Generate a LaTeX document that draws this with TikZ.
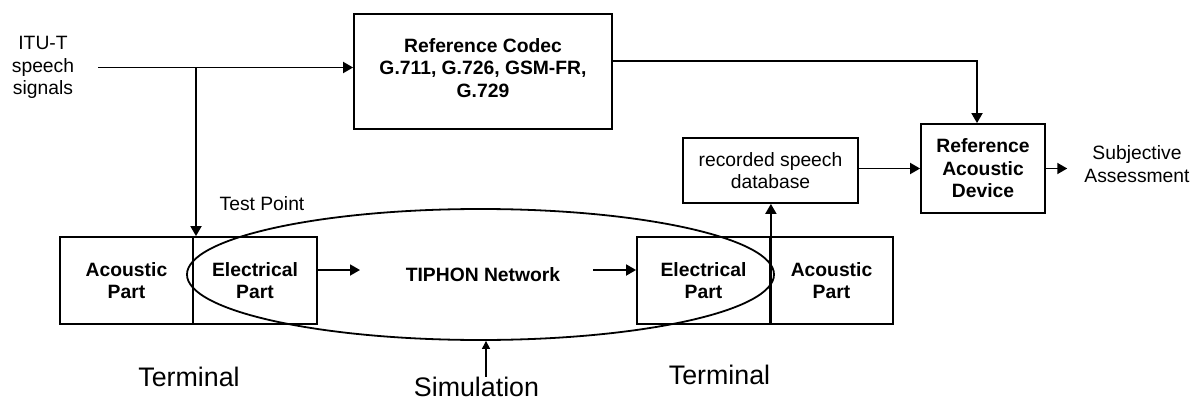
\documentclass[tikz,border=0pt]{standalone}
\usepackage{fontspec}
\setmainfont{Liberation Sans}
\usetikzlibrary{arrows.meta,shapes.geometric}
\newcommand\lblsize{\fontsize{19.3}{22.4}\selectfont}
\newcommand\bigsize{\fontsize{26.8}{30}\selectfont}
\begin{document}
\begin{tikzpicture}[x=1pt,y=-1pt,
  box/.style={draw, line width=1.8pt, inner sep=0pt, align=center, font=\lblsize\bfseries},
  plain/.style={inner sep=0pt, align=center, font=\lblsize},
  big/.style={inner sep=0pt, font=\bigsize},
  flow/.style={line width=1.8pt, -{Triangle[length=10pt,width=11pt]}},
  thinflow/.style={line width=1.1pt, -{Triangle[length=8pt,width=8pt]}},
]
\useasboundingbox (0,0) rectangle (1193,401);

% source and reference path
\node[plain] (itu) at (43,67.5) {ITU-T\\speech\\signals};
\node[box, minimum width=258pt, minimum height=115pt] (codec) at (483,71.5) {};
\node[plain, font=\lblsize\bfseries] (codectxt) at (483,68) {Reference Codec\\G.711, G.726, GSM-FR,\\G.729};
\node[box, font=\lblsize, minimum width=175pt, minimum height=65pt] (rec) at (770.5,170.5) {recorded speech\\database};
\node[box, minimum width=124pt, minimum height=89pt] (rad) at (983,168.5) {Reference\\Acoustic\\Device};
\node[plain, inner xsep=17pt] (subj) at (1137,164) {Subjective\\Assessment};

% terminals
\node[box, minimum width=133pt, minimum height=87pt] (lac) at (126.5,280.5) {Acoustic\\Part};
\node[box, minimum width=124pt, minimum height=87pt] (lel) at (255,280.5) {Electrical\\Part};
\node[box, minimum width=133pt, minimum height=87pt] (rel) at (703.5,280.5) {Electrical\\Part};
\node[box, minimum width=123pt, minimum height=87pt] (rac) at (831.5,280.5) {Acoustic\\Part};

% simulated network
\node[draw, ellipse, line width=1.8pt, minimum width=587pt, minimum height=131pt, inner sep=0pt] (sim) at (480.5,274.5) {};
\node[plain, font=\lblsize\bfseries] (tiphon) at (483,275) {TIPHON Network};
\coordinate (netin) at (360,270);
\coordinate (netout) at (593,270);

% labels
\node[plain] (tp) at (262,204) {Test Point};
\node[big] (term1) at (189,377) {Terminal};
\node[big] (term2) at (719.5,374.5) {Terminal};
\node[big] (simul) at (476.5,387) {Simulation};

% connectors
\coordinate (tap) at (196,67.5);
\draw[flow] ([xshift=24pt]itu.east) -- (itu.east -| codec.west);
\draw[flow] (tap) -- (tap |- lel.north);
\draw[flow] ([yshift=10.5pt]codec.east) -| ([xshift=-6pt]rad.north);
\draw[flow] (rec.east |- rad.west) -- (rad.west);
\draw[flow] (rad.east) -- (rad.east -| subj.west);
\draw[flow] (lel.east |- netin) -- (netin);
\draw[flow] (netout) -- (netout -| rel.west);
\draw[flow] (rel.south east) -- (rel.south east |- rec.south);
\coordinate (sa) at ([xshift=9.5pt]simul.north);
\draw[thinflow] (sa) -- (sa |- sim.south);
\end{tikzpicture}
\end{document}
